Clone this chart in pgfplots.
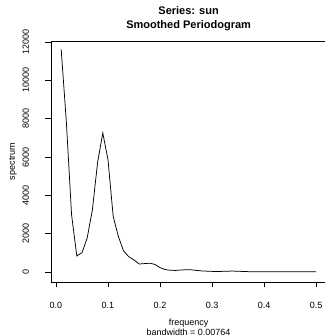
\documentclass[border=0pt]{standalone}
\usepackage{fontspec}
\setmainfont{Liberation Sans}
\usepackage{pgfplots}
\pgfplotsset{compat=1.18}
\begin{document}
\begin{tikzpicture}
\path[use as bounding box] (0,0) rectangle (324pt,336pt);
\begin{axis}[
  at={(51pt,54pt)}, anchor=south west,
  scale only axis, width=275.2pt, height=241pt,
  xmin=-0.0096, xmax=0.5196, ymin=-520, ymax=12060,
  axis line style={line width=0.8pt, black},
  scaled y ticks=false, scaled x ticks=false,
  xtick={0,0.1,0.2,0.3,0.4,0.5},
  xticklabels={0.0,0.1,0.2,0.3,0.4,0.5},
  ytick={0,2000,4000,6000,8000,10000,12000},
  yticklabels={0,2000,4000,6000,8000,10000,12000},
  xtick pos=bottom, ytick pos=left,
  tick align=outside, major tick length=5.5pt,
  tick style={line width=0.8pt, black},
  ticklabel style={font=\fontsize{9}{10}\selectfont},
  xticklabel style={anchor=base, yshift=-20.5pt},
  yticklabel style={xshift=-18.5pt, rotate=90, anchor=center},
  typeset ticklabels with strut=false,
  clip=false,
]
\addplot[black, line width=0.75pt] coordinates {
(0.01,11620) (0.02,7800) (0.03,2980) (0.04,840) (0.05,1010)
(0.06,1780) (0.07,3250) (0.08,5720) (0.09,7260) (0.10,5860)
(0.11,2900) (0.12,1850) (0.13,1100) (0.14,800) (0.15,630)
(0.16,420) (0.17,440) (0.18,460) (0.19,400) (0.20,230)
(0.21,130) (0.22,90) (0.23,85) (0.24,105) (0.25,120)
(0.26,115) (0.27,85) (0.28,60) (0.29,45) (0.30,35)
(0.31,30) (0.32,35) (0.33,45) (0.34,50) (0.35,40)
(0.36,30) (0.37,20) (0.38,15) (0.39,15) (0.40,15)
(0.41,15) (0.42,15) (0.43,15) (0.44,15) (0.45,15)
(0.46,15) (0.47,15) (0.48,15) (0.49,12) (0.50,10)
};
\node[font=\bfseries\fontsize{11}{13}\selectfont, anchor=base] at ([yshift=26pt]rel axis cs:0.5,1) {Series: sun};
\node[font=\bfseries\fontsize{11}{13}\selectfont, anchor=base] at ([yshift=12pt]rel axis cs:0.5,1) {Smoothed Periodogram};
\node[font=\fontsize{9}{10}\selectfont, anchor=base] at ([yshift=-43pt]rel axis cs:0.5,0) {frequency};
\node[font=\fontsize{9}{10}\selectfont, anchor=base] at ([yshift=-53pt]rel axis cs:0.5,0) {bandwidth = 0.00764};
\node[font=\fontsize{9}{10}\selectfont, rotate=90, anchor=center] at ([xshift=-38pt]rel axis cs:0,0.5) {spectrum};
\end{axis}
\end{tikzpicture}
\end{document}
